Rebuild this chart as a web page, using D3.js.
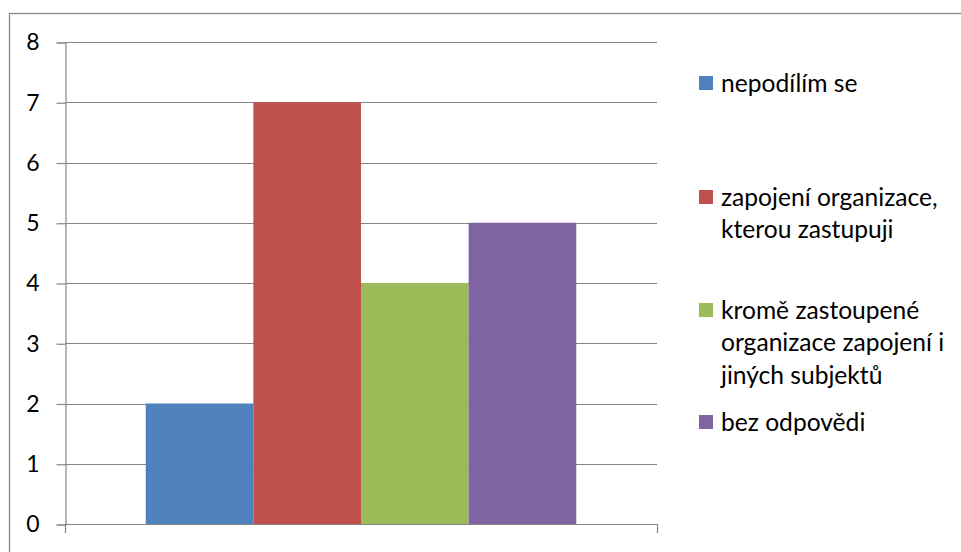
<!DOCTYPE html>
<html>
<head>
<meta charset="utf-8">
<script src="https://cdn.jsdelivr.net/npm/d3@7"></script>
<style>
  body { margin: 0; background: #fff; }
  text { font-family: Lato, "Open Sans", sans-serif; fill: #000; }
</style>
</head>
<body>
<div id="chart"></div>
<script>
const series = ['nepodílím se', 'zapojení organizace, kterou zastupuji', 'kromě zastoupené organizace zapojení i jiných subjektů', 'bez odpovědi']
const values = [2, 7, 4, 5]
const colors = ['#4F81BD', '#C0504D', '#9BBB59', '#8064A2']
const legendLines = [
    ['nepodílím se'],
    ['zapojení organizace,', 'kterou zastupuji'],
    ['kromě zastoupené', 'organizace zapojení i', 'jiných subjektů'],
    ['bez odpovědi']
]
const yTicks = [0, 1, 2, 3, 4, 5, 6, 7, 8]

const W = 961, H = 552
const PLOT = {LEFT: 65, RIGHT: 657, TOP: 42, BOTTOM: 524}

const svg = d3.select('#chart').append('svg')
    .attr('width', W)
    .attr('height', H)

// outer chart border (cropped at right and bottom)
svg.append('rect')
    .attr('x', 9.5).attr('y', 13.5)
    .attr('width', 1000).attr('height', 600)
    .attr('fill', 'none')
    .attr('stroke', '#868686')
    .attr('stroke-width', 1.3)

const y = d3.scaleLinear()
    .domain([0, 8])
    .range([PLOT.BOTTOM, PLOT.TOP])

const x = d3.scaleBand()
    .domain(series)
    .range([PLOT.LEFT, PLOT.RIGHT])
    .paddingInner(0)
    .paddingOuter(0.75)

// gridlines
svg.append('g')
    .selectAll('line')
    .data(yTicks)
    .join('line')
    .attr('x1', PLOT.LEFT).attr('x2', PLOT.RIGHT)
    .attr('y1', d => Math.round(y(d)) + 0.5)
    .attr('y2', d => Math.round(y(d)) + 0.5)
    .attr('stroke', '#868686')
    .attr('stroke-width', 1.2)

// bars
svg.append('g')
    .selectAll('rect')
    .data(values)
    .join('rect')
    .attr('x', (d, i) => x(series[i]))
    .attr('y', d => y(d))
    .attr('width', x.bandwidth())
    .attr('height', d => y(0) - y(d))
    .attr('fill', (d, i) => colors[i])

// y axis
const yAxis = d3.axisLeft(y)
    .tickValues(yTicks)
    .tickFormat(d3.format('d'))
    .tickSize(9)
    .tickPadding(17)
const yg = svg.append('g')
    .attr('transform', `translate(${PLOT.LEFT + 0.5}, 0.5)`)
    .call(yAxis)
yg.select('.domain').attr('stroke', '#868686').attr('stroke-width', 1.2)
yg.selectAll('.tick line').attr('stroke', '#868686').attr('stroke-width', 1.2)
yg.selectAll('.tick text')
    .attr('font-size', 23)
    .attr('font-family', 'Lato, sans-serif')
    .attr('fill', '#000')

// x axis line with end ticks
svg.append('path')
    .attr('d', `M${PLOT.LEFT + 0.5},${PLOT.BOTTOM + 9}V${Math.round(y(0)) + 0.5}H${PLOT.RIGHT + 0.5}V${PLOT.BOTTOM + 9}`)
    .attr('fill', 'none')
    .attr('stroke', '#868686')
    .attr('stroke-width', 1.2)

// legend
const legendY = [83, 197, 310, 422]
const lg = svg.append('g')
series.forEach((s, i) => {
    const g = lg.append('g').attr('transform', `translate(699, ${legendY[i]})`)
    g.append('rect')
        .attr('x', 0).attr('y', -7)
        .attr('width', 14).attr('height', 14)
        .attr('fill', colors[i])
    g.selectAll('text')
        .data(legendLines[i])
        .join('text')
        .attr('x', 22)
        .attr('y', (d, j) => j * 32.5)
        .attr('dy', '0.35em')
        .attr('font-size', 24.6)
        .text(d => d)
})
</script>
</body>
</html>
